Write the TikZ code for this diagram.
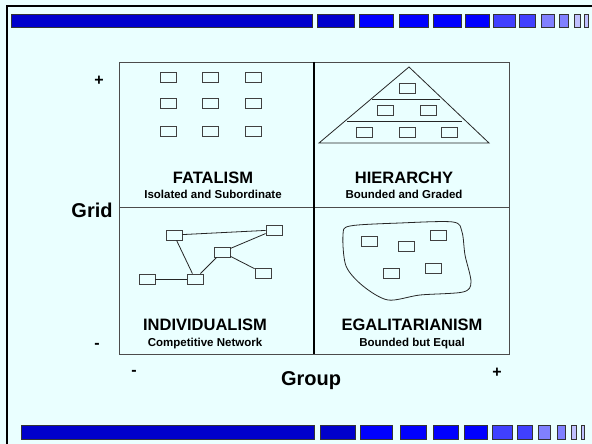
\documentclass[tikz,border=0pt]{standalone}
\usepackage{fontspec}
\setmainfont{Liberation Sans}
\usetikzlibrary{positioning}
\definecolor{paper}{RGB}{234,255,255}
\definecolor{navy}{RGB}{0,0,204}
\definecolor{royal}{RGB}{0,0,255}
\definecolor{midblue}{RGB}{64,64,255}
\definecolor{lightblue}{RGB}{128,128,255}
\definecolor{paleblue}{RGB}{192,192,255}

\begin{document}
\begin{tikzpicture}[x=1pt,y=-1pt,
    cell/.style={draw=black!75,fill=paper,line width=0.8pt,minimum width=16pt,minimum height=10pt,inner sep=0pt},
    seg/.style={draw=black!80,line width=1pt},
    title/.style={font=\bfseries\fontsize{16.5}{18}\selectfont,anchor=base,inner sep=0pt},
    sub/.style={font=\bfseries\fontsize{11.5}{13}\selectfont,anchor=base,inner sep=0pt},
    axis/.style={font=\bfseries\fontsize{20}{22}\selectfont,anchor=base,inner sep=0pt},
    sign/.style={font=\bfseries\fontsize{16}{18}\selectfont,inner sep=0pt}]
      \fill[paper] (0,0) rectangle (592,444);
      \useasboundingbox (0,0) rectangle (592,444);
      \draw[line width=2pt] (7,444) -- (7,6) -- (592,6);

      % bars at top and bottom
      \foreach \a/\b/\c in {11/312/navy, 317/354/navy, 359/393/royal, 399/428/royal, 433/461/royal, 465/489/royal,
                            493/515/midblue, 519/535/midblue, 541/554/lightblue, 559/568/lightblue, 574/580/paleblue, 584/588/paleblue}
      \draw[seg, fill=\c] (\a,15) rectangle (\b,28);
      \foreach \a/\b/\c in {21/314/navy, 320/355/navy, 360/392/royal, 400/426/royal, 433/458/royal, 464/487/royal,
                            492/512/midblue, 517/532/midblue, 538/550/lightblue, 557/565/lightblue, 571/576/paleblue, 581/584/paleblue}
      \draw[seg, fill=\c] (\a,425) rectangle (\b,439);

      % quadrants
      \draw[black!70, line width=0.8pt] (119,62) rectangle (509,354);
      \draw[black!70, line width=0.8pt] (119,207) -- (509,207);
      \draw[line width=1.6pt] (314,62) -- (314,354);

      \node[sign] (gplus) at (99,81) {+};
      \node[sign] (gminus) at (97,346) {-};
      \node[axis] (grid) at (92,217) {Grid};
      \node[sign] (cminus) at (134,373) {-};
      \node[sign] (cplus) at (497,373) {+};
      \node[axis] (group) at (311,385) {Group};

      % fatalism
      \foreach \i/\x in {1/168, 2/210, 3/253}
        \foreach \j/\y in {1/77, 2/103, 3/131}
          \node[cell] (f\i\j) at (\x,\y) {};
      \node[title] (fat) at (213,183) {FATALISM};
      \node[sub] (fatsub) at (213,198) {Isolated and Subordinate};

      % hierarchy
      \draw[black!85, line width=0.8pt] (409,67) -- (489,143) -- (319,143) -- cycle;
      \draw[black!85, line width=0.8pt] (372,99) -- (440,99);
      \draw[black!85, line width=0.8pt] (347,121) -- (462,121);
      \node[cell] (h1) at (407,88) {};
      \node[cell] (h2) at (385,110) {};
      \node[cell] (h3) at (428,110) {};
      \node[cell] (h4) at (364,132) {};
      \node[cell] (h5) at (407,132) {};
      \node[cell] (h6) at (449,132) {};
      \node[title] (hier) at (404,183) {HIERARCHY};
      \node[sub] (hiersub) at (404,198) {Bounded and Graded};

      % individualism
      \node[cell] (na) at (174,235) {};
      \node[cell] (nb) at (274,230) {};
      \node[cell] (nc) at (222,252) {};
      \node[cell] (nd) at (263,273) {};
      \node[cell] (ne) at (147,279) {};
      \node[cell] (nf) at (195,279) {};
      \draw[black!85, line width=0.8pt] (na) -- (nb);
      \draw[black!85, line width=0.8pt] (na) -- (nf);
      \draw[black!85, line width=0.8pt] (ne) -- (nf);
      \draw[black!85, line width=0.8pt] (nf) -- (nc);
      \draw[black!85, line width=0.8pt] (nc) -- (nb);
      \draw[black!85, line width=0.8pt] (nc) -- (nd);
      \node[title] (indiv) at (205,330) {INDIVIDUALISM};
      \node[sub] (indivsub) at (205,346) {Competitive Network};

      % egalitarianism
      \draw[black!85, line width=0.8pt] plot[smooth cycle, tension=0.5] coordinates
        {(350,226) (400,223) (453,222) (462,232) (465,255) (471,282) (463,292) (420,295) (388,300) (363,286) (346,266) (343,235)};
      \node[cell] (e1) at (369,241) {};
      \node[cell] (e2) at (406,246) {};
      \node[cell] (e3) at (438,235) {};
      \node[cell] (e4) at (391,273) {};
      \node[cell] (e5) at (433,268) {};
      \node[title] (egal) at (412,330) {EGALITARIANISM};
      \node[sub] (egalsub) at (412,346) {Bounded but Equal};
\end{tikzpicture}
\end{document}
